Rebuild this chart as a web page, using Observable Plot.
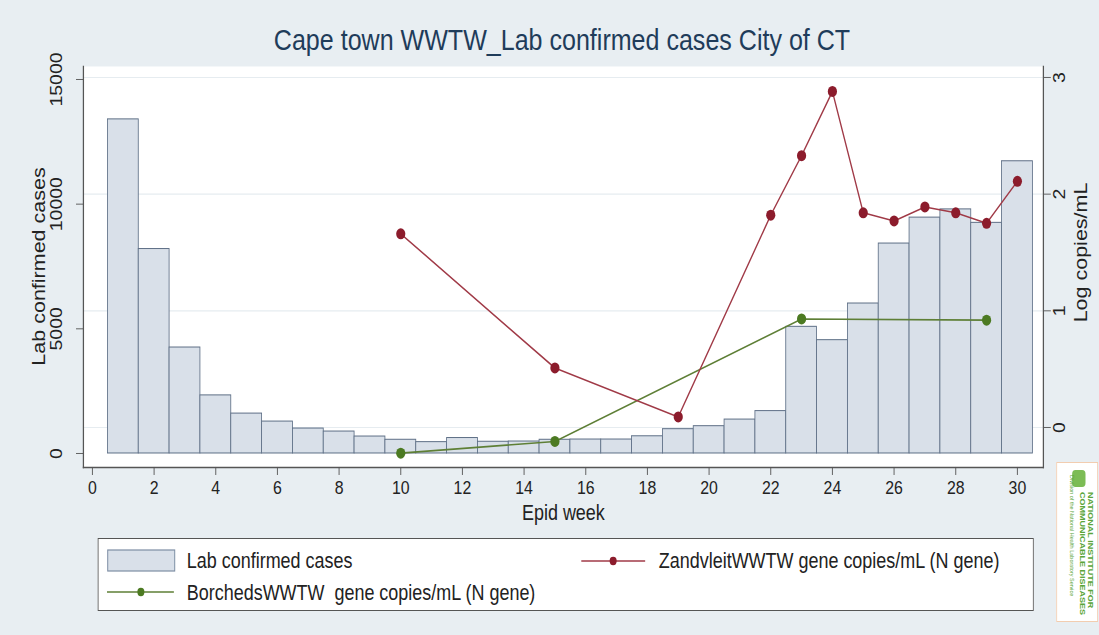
<!DOCTYPE html>
<html>
<head>
<meta charset="utf-8">
<script src="https://cdn.jsdelivr.net/npm/d3@7"></script>
<script src="https://cdn.jsdelivr.net/npm/@observablehq/plot@0.6"></script>
<style>
  body { margin: 0; background: #e8eef2; }
  #wrap { position: relative; width: 1099px; height: 635px; background: #e8eef2; overflow: hidden; }
  #inner { position: absolute; left: 0; top: 0; height: 635px; transform-origin: 0 0;
           font-family: "Liberation Sans", Arial, sans-serif; }
  #chart { position: absolute; left: 0; top: 0; }
  #title { position: absolute; left: 0; top: 25px; text-align: center; font-size: 30px;
           line-height: 1; color: #1f3c5a; white-space: nowrap; }
  #legend { position: absolute; top: 538px; height: 71px; background: #fff; border: 1.5px solid #555; }
  .item { position: absolute; font-size: 21.5px; line-height: 1; color: #222; white-space: pre; }
  .sw { position: absolute; }
  #logo { position: absolute; top: 462px; height: 160px; background: #fff;
          border: 1px solid #f2cdb0; box-sizing: border-box; overflow: hidden; }
  #logo .t { position: absolute; writing-mode: vertical-rl; white-space: nowrap; color: #5aa53a; }
</style>
</head>
<body>
<div id="wrap">
  <div id="inner">
    <div id="chart"></div>
    <div id="title">Cape town WWTW_Lab confirmed cases City of CT</div>
    <div id="legend"></div>
    <div id="logo">
      <div style="position:absolute;right:14px;top:7px;width:16px;height:17px;border-radius:4px;background:#7cbc55;"></div>
      <div class="t" style="right:3px;top:29px;font-size:9px;font-weight:bold;line-height:10px;">NATIONAL INSTITUTE FOR<br>COMMUNICABLE DISEASES</div>
      <div class="t" style="right:28px;top:12px;font-size:5.5px;line-height:6px;">Division of the National Health Laboratory Service</div>
    </div>
  </div>
</div>
<script>
// ---- data ----
const weeks = [1,2,3,4,5,6,7,8,9,10,11,12,13,14,15,16,17,18,19,20,21,22,23,24,25,26,27,28,29,30];
const labCases = [13400, 8200, 4250, 2330, 1600, 1280, 1000, 880, 680, 550,
                  455, 620, 470, 480, 550, 560, 560, 690, 975, 1095,
                  1360, 1700, 5080, 4545, 6015, 8420, 9460, 9790, 9250, 11720];
const zandWeeks = [10, 15, 19, 22, 23, 24, 25, 26, 27, 28, 29, 30];
const zandValues = [1.66, 0.51, 0.09, 1.82, 2.33, 2.88, 1.84, 1.77, 1.89, 1.84, 1.75, 2.11];
const borWeeks = [10, 15, 23, 29];
const borValues = [-0.22, -0.12, 0.93, 0.92];
const xTicks = [0,2,4,6,8,10,12,14,16,18,20,22,24,26,28,30];
const leftTicks = [0, 5000, 10000, 15000];
const rightTicks = [0, 1, 2, 3];
const seriesNames = ["Lab confirmed cases", "ZandvleitWWTW gene copies/mL (N gene)", "BorchedsWWTW  gene copies/mL (N gene)"];

// the reference picture is horizontally compressed; draw wider and compress by S
const S = 0.835;
const W = 1099 / S;
const inner = document.getElementById("inner");
inner.style.width = W + "px";
inner.style.transform = `scaleX(${S})`;

// ---- right axis (log copies/mL) mapped onto the left-axis scale ----
const A = 1042.8, B = 4679.2;
const toCases = v => A + B * v;
const fromCases = c => (c - A) / B;

const barData = weeks.map((w, i) => ({week: w, cases: labCases[i]}));
const zandData = zandWeeks.map((w, i) => ({week: w, v: zandValues[i]}));
const borData = borWeeks.map((w, i) => ({week: w, v: borValues[i]}));

const RED_LINE = "#a03a47", RED_DOT = "#8c1c2c", GREEN_LINE = "#5e7f36", GREEN_DOT = "#4c7a22";

const chart = Plot.plot({
  width: W, height: 530,
  marginLeft: 83 / S, marginRight: 56 / S, marginTop: 66, marginBottom: 63,
  x: {domain: [-0.292, 30.843]},
  y: {domain: [-561.5, 15521]},
  style: {background: "transparent", color: "#222", fontFamily: '"Liberation Sans", Arial, sans-serif'},
  marks: [
    Plot.frame({fill: "white", stroke: null}),
    Plot.ruleY(rightTicks, {y: toCases, stroke: "#e6ecf0", strokeWidth: 1.2}),
    Plot.rectY(barData, {x1: d => d.week - 0.5, x2: d => d.week + 0.5, y1: 0, y2: "cases",
                         fill: "#d9e0e9", stroke: "#5e6f86", strokeWidth: 1}),
    Plot.line(borData, {x: "week", y: d => toCases(d.v), stroke: GREEN_LINE, strokeWidth: 1.6}),
    Plot.line(zandData, {x: "week", y: d => toCases(d.v), stroke: RED_LINE, strokeWidth: 1.6}),
    Plot.dot(borData, {x: "week", y: d => toCases(d.v), r: 5.5, fill: GREEN_DOT, stroke: null}),
    Plot.dot(zandData, {x: "week", y: d => toCases(d.v), r: 5.5, fill: RED_DOT, stroke: null}),
    Plot.frame({anchor: "left", stroke: "#555", strokeWidth: 1.5}),
    Plot.frame({anchor: "bottom", stroke: "#555", strokeWidth: 1.5}),
    Plot.frame({anchor: "right", stroke: "#555", strokeWidth: 1.5}),
    Plot.axisX({ticks: xTicks, tickSize: 8, tickPadding: 5, fontSize: 19,
                label: null, stroke: "#555", tickFormat: d => String(d)}),
    Plot.axisY({anchor: "left", ticks: leftTicks, tickRotate: -90, tickSize: 7 / S, tickPadding: 14 / S,
                fontSize: 19.5, label: null, stroke: "#555", tickFormat: d => String(d)}),
    Plot.axisY({anchor: "right", ticks: rightTicks.map(toCases), tickRotate: -90, tickSize: 7 / S,
                tickPadding: 15 / S, fontSize: 19.5, label: null, stroke: "#555",
                tickFormat: c => String(Math.round(fromCases(c)))}),
    Plot.text(["Epid week"], {frameAnchor: "bottom", lineAnchor: "middle", dy: 46, fontSize: 21.5, fill: "#222"}),
    Plot.text(["Lab confirmed cases"], {frameAnchor: "left", textAnchor: "middle", lineAnchor: "middle",
                y: [(leftTicks[0] + leftTicks[3]) / 2], rotate: -90, dx: -44 / S, fontSize: 21.5, fill: "#222"}),
    Plot.text(["Log copies/mL"], {frameAnchor: "right", textAnchor: "middle", lineAnchor: "middle",
                y: [toCases((rightTicks[0] + rightTicks[3]) / 2)], rotate: -90, dx: 38 / S, fontSize: 21.5, fill: "#222"})
  ]
});
document.getElementById("chart").appendChild(chart);

// ---- title / legend / logo placement (screen px / S) ----
const title = document.getElementById("title");
title.style.width = (1124 / S) + "px";

const legend = document.getElementById("legend");
legend.style.left = (98 / S) + "px";
legend.style.width = (934 / S) + "px";
const logo = document.getElementById("logo");
logo.style.left = (1056 / S) + "px";
logo.style.width = (42 / S) + "px";

function add(html) { legend.insertAdjacentHTML("beforeend", html); }
const px = v => (v / S).toFixed(2);
add(`<svg class="sw" style="left:${px(8)}px;top:10px" width="${px(70)}" height="24"><rect x="1" y="1" width="${px(67)}" height="21" fill="#d9e0e9" stroke="#7d8ea4" stroke-width="1.2"/></svg>`);
add(`<div class="item" style="left:${px(88)}px;top:12px">${seriesNames[0]}</div>`);
add(`<svg class="sw" style="left:${px(482)}px;top:12px" width="${px(66)}" height="20"><line x1="0" x2="${px(64)}" y1="10" y2="10" stroke="${RED_LINE}" stroke-width="1.6"/><circle cx="${px(32)}" cy="10" r="4.2" fill="${RED_DOT}"/></svg>`);
add(`<div class="item" style="left:${px(560)}px;top:12px">${seriesNames[1]}</div>`);
add(`<svg class="sw" style="left:${px(8)}px;top:43px" width="${px(70)}" height="20"><line x1="0" x2="${px(67)}" y1="10" y2="10" stroke="${GREEN_LINE}" stroke-width="1.6"/><circle cx="${px(34)}" cy="10" r="4.2" fill="${GREEN_DOT}"/></svg>`);
add(`<div class="item" style="left:${px(88)}px;top:44px">${seriesNames[2]}</div>`);
</script>
</body>
</html>
